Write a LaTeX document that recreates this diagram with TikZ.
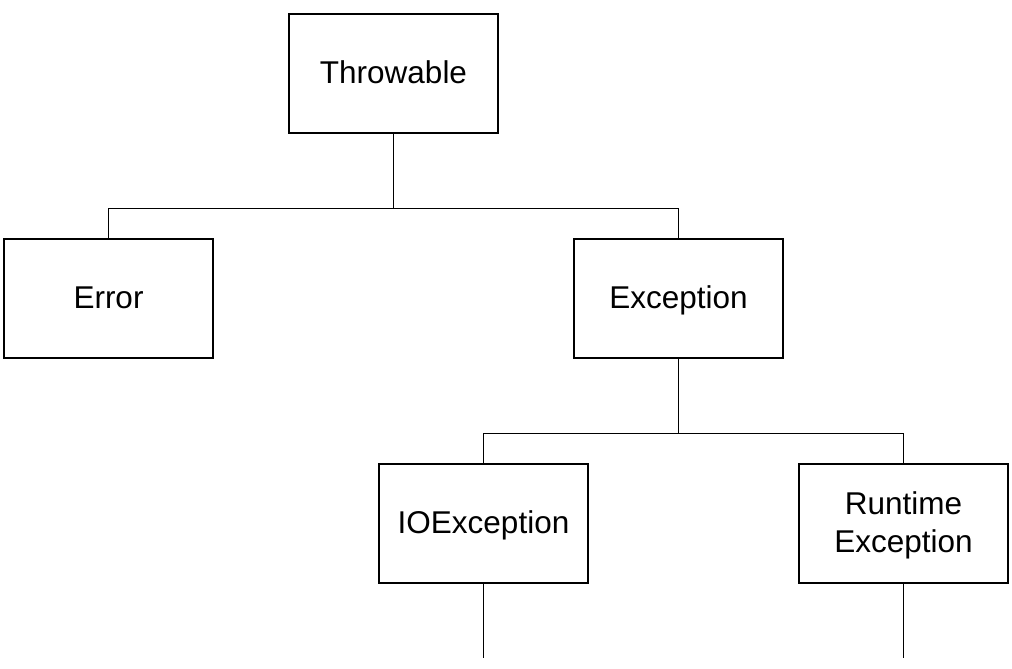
\documentclass[tikz,border=0pt]{standalone}
\usepackage{fontspec}
\setmainfont{Liberation Sans}
\begin{document}
\begin{tikzpicture}[x=1pt,y=-1pt,
  cls/.style={draw=black,line width=1.3pt,minimum width=209pt,minimum height=119pt,inner sep=0pt,
    font=\fontsize{31.5}{38}\selectfont,align=center},
  one/.style={text height=24pt,text depth=4pt},
  two/.style={text height=61pt,text depth=4pt},
  link/.style={draw=black,line width=1.3pt}]
\useasboundingbox (0,0) rectangle (1012,669);
\node[cls,one] (thr) at (393.5,73.5) {Throwable};
\node[cls,one] (err) at (108.5,298.5) {Error};
\node[cls,one] (exc) at (678.5,298.5) {Exception};
\node[cls,one] (ioe) at (483.5,523.5) {IOException};
\node[cls,two] (rte) at (903.5,523.5) {Runtime\\Exception};
\coordinate (ioend) at (483.5,658);
\coordinate (rtend) at (903.5,658);
\draw[link] (thr.south) -- ++(0,75) -| (err.north);
\draw[link] (thr.south) -- ++(0,75) -| (exc.north);
\draw[link] (exc.south) -- ++(0,75) -| (ioe.north);
\draw[link] (exc.south) -- ++(0,75) -| (rte.north);
\draw[link] (ioe.south) -- (ioend);
\draw[link] (rte.south) -- (rtend);
\end{tikzpicture}
\end{document}
